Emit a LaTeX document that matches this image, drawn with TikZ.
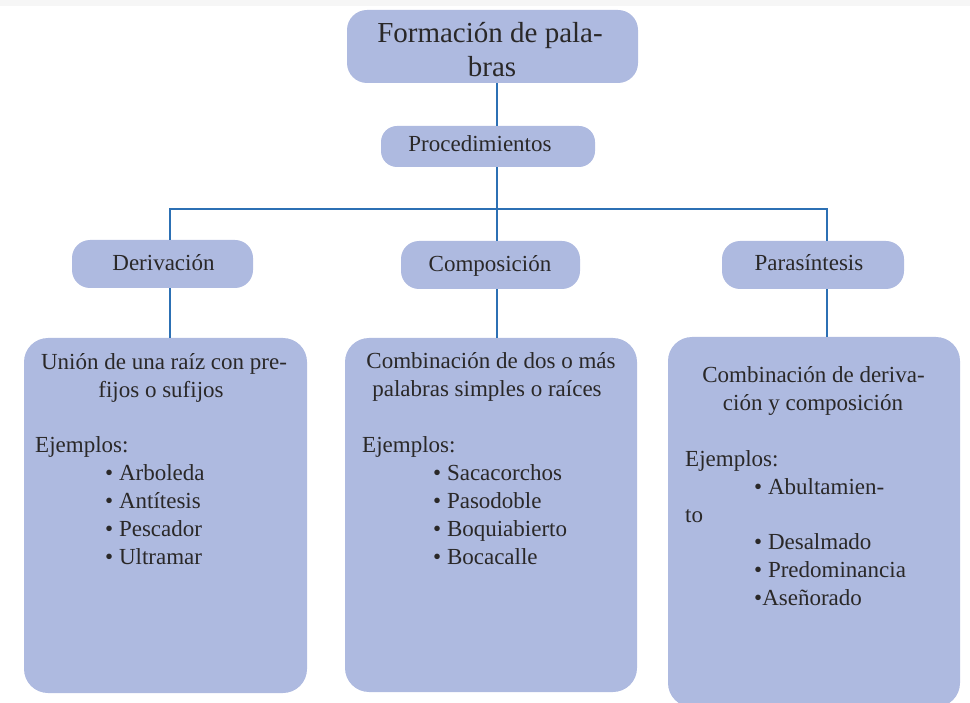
\documentclass[tikz,border=0pt]{standalone}
\usepackage{fontspec}
\setmainfont{Liberation Serif}
\definecolor{boxfill}{HTML}{AEBAE0}
\definecolor{linecol}{HTML}{2C70B4}
\definecolor{txt}{HTML}{2A2828}
\definecolor{strip}{HTML}{F6F6F6}
\begin{document}
\begin{tikzpicture}[x=1pt,y=-1pt,
  box/.style={fill=boxfill, draw=none, inner sep=0pt, rounded corners=#1},
  box/.default=20pt,
  conn/.style={draw=linecol, line width=2pt},
  lbl/.style={inner sep=0pt, text=txt, anchor=base, font=\fontsize{23}{28}\selectfont},
  lbw/.style={lbl, anchor=base west},
  ttl/.style={inner sep=0pt, text=txt, anchor=base, font=\fontsize{29}{33}\selectfont}]
\useasboundingbox (0,0) rectangle (970,703);
\clip (0,0) rectangle (970,703);
\fill[strip] (0,0) rectangle (970,6);

% boxes
\node[box=20pt, minimum width=291pt, minimum height=73pt] (title) at (492.5,46.5) {};
\node[box=16pt, minimum width=214pt, minimum height=41pt] (proc) at (488,146.5) {};
\node[box=18pt, minimum width=181pt, minimum height=48pt] (der) at (162.5,264) {};
\node[box=18pt, minimum width=179pt, minimum height=48pt] (comp) at (490.5,265) {};
\node[box=18pt, minimum width=182pt, minimum height=48pt] (para) at (813,265) {};
\node[box=24pt, minimum width=283pt, minimum height=355pt] (derbox) at (165.5,515.5) {};
\node[box=24pt, minimum width=292pt, minimum height=354pt] (compbox) at (491,515) {};
\node[box=24pt, minimum width=292pt, minimum height=370pt] (parabox) at (814,522) {};

% connectors
\coordinate (trunk) at (497,0);
\coordinate (busL) at (170,209);
\coordinate (busR) at (827,209);
\draw[conn] (title.south -| trunk) -- (proc.north -| trunk);
\draw[conn] (proc.south -| trunk) -- (trunk |- busL);
\draw[conn] (der.north -| busL) -- (busL) -- (busR) -- (para.north -| busR);
\draw[conn] (trunk |- busL) -- (comp.north -| trunk);
\draw[conn] (der.south -| busL) -- (derbox.north -| busL);
\draw[conn] (comp.south -| trunk) -- (compbox.north -| trunk);
\draw[conn] (para.south -| busR) -- (parabox.north -| busR);

% title texts
\node[ttl] (t1) at (490,43) {Formación de pala-};
\node[ttl] (t2) at (492,77) {bras};
\node[lbl] (tp) at (480,152) {Procedimientos};
\node[lbl] (td) at (163.5,271) {Derivación};
\node[lbl] (tc) at (490,272) {Composición};
\node[lbl] (tpa) at (809,271) {Parasíntesis};

% left box
\node[lbl] (l1) at (164,370) {Unión de una raíz con pre-};
\node[lbl] (l2) at (161,398) {fijos o sufijos};
\node[lbw] (l3) at (35,453) {Ejemplos:};
\node[lbw] (l4) at (105,480) {• Arboleda};
\node[lbw] (l5) at (105,508) {• Antítesis};
\node[lbw] (l6) at (105,536) {• Pescador};
\node[lbw] (l7) at (105,564) {• Ultramar};

% middle box
\node[lbl] (m1) at (491,369) {Combinación de dos o más};
\node[lbl] (m2) at (487,397) {palabras simples o raíces};
\node[lbw] (m3) at (362,453) {Ejemplos:};
\node[lbw] (m4) at (433,480) {• Sacacorchos};
\node[lbw] (m5) at (433,508) {• Pasodoble};
\node[lbw] (m6) at (433,536) {• Boquiabierto};
\node[lbw] (m7) at (433,564) {• Bocacalle};

% right box
\node[lbl] (r1) at (813.5,383) {Combinación de deriva-};
\node[lbl] (r2) at (813,411) {ción y composición};
\node[lbw] (r3) at (685,467) {Ejemplos:};
\node[lbw] (r4) at (754,494) {• Abultamien-};
\node[lbw] (r5) at (685,522) {to};
\node[lbw] (r6) at (754,549) {• Desalmado};
\node[lbw] (r7) at (754,577) {• Predominancia};
\node[lbw] (r8) at (754,605) {•Aseñorado};
\end{tikzpicture}
\end{document}
